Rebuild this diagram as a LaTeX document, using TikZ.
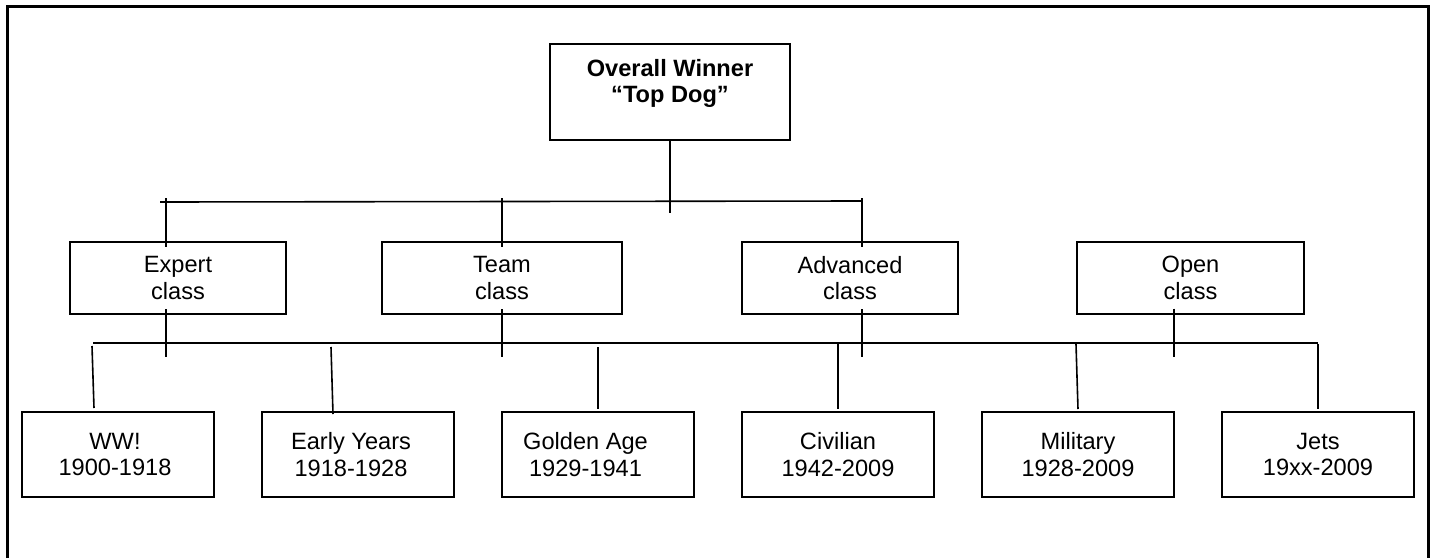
\documentclass[tikz,border=0pt]{standalone}
\usepackage{fontspec}
\setmainfont{Liberation Sans}
\usetikzlibrary{calc}

\tikzset{
  box/.style={draw,line width=1pt,align=center,inner sep=0pt,
    font=\fontsize{11.8}{13.4}\selectfont},
  topbox/.style={box,minimum width=120pt,minimum height=48pt,
    font=\fontsize{11.8}{13.4}\selectfont\bfseries},
  classbox/.style={box,minimum width=108pt,minimum height=36pt},
  erabox/.style={box,minimum width=96pt,minimum height=42.5pt},
  wire/.style={line width=0.8pt},
}

\begin{document}
\begin{tikzpicture}[x=0.5pt,y=-0.5pt]

\useasboundingbox (0,0) rectangle (1431,558);
\draw[line width=1.5pt] (7,558) -- (7,6) -- (1428,6) -- (1428,558);

% -- top
\node[topbox] (top) at (670,92) {Overall Winner\\“Top Dog”\rule[-11pt]{0pt}{1pt}};

% -- classes
\node[classbox] (expert) at (178,278) {Expert\\class};
\node[classbox,minimum width=120pt] (team) at (502,278) {Team\\class};
\node[classbox] (advanced) at (850,278) {Advanced\\class};
\node[classbox,minimum width=113.5pt] (open) at (1190.5,277.5) {Open\\class};

% -- eras
\node[erabox] (ww) at (118,454.5) {WW!\hspace*{3pt}\\1900-1918\hspace*{3pt}};
\node[erabox] (early) at (358,454.5) {Early Years\hspace*{7pt}\\1918-1928\hspace*{7pt}};
\node[erabox] (golden) at (598,454.5) {Golden Age\hspace*{12.5pt}\\1929-1941\hspace*{12.5pt}};
\node[erabox] (civilian) at (838,454.5) {Civilian\\1942-2009};
\node[erabox] (military) at (1078,454.5) {Military\\1928-2009};
\node[erabox] (jets) at (1318,454.5) {Jets\\19xx-2009};

% -- bus lines
\coordinate (upL) at (160,202);
\coordinate (upR) at ($(advanced.north)+(12,-40)$);
\coordinate (lowL) at (93,343);
\coordinate (lowR) at (jets.north |- lowL);

\draw[wire] (upL) -- (upR);
\draw[wire] (lowL) -- (lowR);

% -- top to classes
\draw[wire] (top.south) -- ++(0,72);
\draw[wire] ($(expert.north)+(-12,-43)$) -- ++(0,49);
\draw[wire] ($(team.north)+(0,-43)$) -- ++(0,49);
\draw[wire] ($(advanced.north)+(12,-43)$) -- ++(0,49);

% -- classes to lower bus
\draw[wire] ($(expert.south)+(-12,-6)$) -- ++(0,48);
\draw[wire] ($(team.south)+(0,-6)$) -- ++(0,48);
\draw[wire] ($(advanced.south)+(12,-6)$) -- ++(0,48);
\draw[wire] ($(open.south)+(-16.5,-6)$) -- ++(0,48);

% -- lower bus to eras
\draw[wire] ($(ww.north)+(-26,-65)$) -- ($(ww.north)+(-24,-3)$);
\draw[wire] ($(early.north)+(-27,-64)$) -- ($(early.north)+(-25,3)$);
\draw[wire] ($(golden.north)+(0,-64)$) -- ($(golden.north)+(0,-2)$);
\draw[wire] ($(civilian.north)+(0,-67)$) -- ($(civilian.north)+(0,-2)$);
\draw[wire] ($(military.north)+(-2,-67)$) -- ($(military.north)+(0,-2)$);
\draw[wire] ($(jets.north)+(0,-67)$) -- ($(jets.north)+(0,-2)$);

\end{tikzpicture}
\end{document}
